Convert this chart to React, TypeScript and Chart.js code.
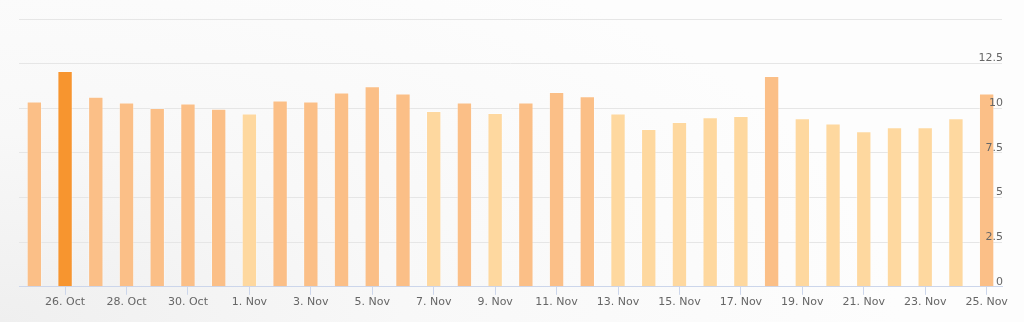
import React, { useEffect, useRef } from "react";
import { Chart, registerables } from "chart.js";

Chart.register(...registerables);

const categories: string[] = [
  "25. Oct", "26. Oct", "27. Oct", "28. Oct", "29. Oct", "30. Oct", "31. Oct",
  "1. Nov", "2. Nov", "3. Nov", "4. Nov", "5. Nov", "6. Nov", "7. Nov", "8. Nov",
  "9. Nov", "10. Nov", "11. Nov", "12. Nov", "13. Nov", "14. Nov", "15. Nov",
  "16. Nov", "17. Nov", "18. Nov", "19. Nov", "20. Nov", "21. Nov", "22. Nov",
  "23. Nov", "24. Nov", "25. Nov",
];

const values: number[] = [
  10.38, 12.09, 10.64, 10.33, 10.02, 10.27, 9.97,
  9.71, 10.44, 10.38, 10.89, 11.24, 10.83, 9.85, 10.33,
  9.74, 10.33, 10.91, 10.68, 9.71, 8.84, 9.23,
  9.5, 9.56, 11.81, 9.44, 9.14, 8.71, 8.94,
  8.94, 9.44, 10.83,
];

const yTickValues: number[] = [0, 2.5, 5, 7.5, 10, 12.5, 15];

const colorFor = (v: number) =>
  v >= 12 ? "#f7952f" : v >= 9.9 ? "#fbbf87" : "#fed89f";

export default function App() {
  const ref = useRef<HTMLCanvasElement | null>(null);

  useEffect(() => {
    if (!ref.current) return;
    const setTicks = (axis: any) => {
      axis.ticks = yTickValues.map((v) => ({ value: v }));
    };
    const chart = new Chart(ref.current, {
      type: "bar",
      data: {
        labels: categories,
        datasets: [
          {
            data: values,
            yAxisID: "y",
            backgroundColor: values.map(colorFor),
            borderColor: "rgba(255,255,255,0.35)",
            borderWidth: 1,
            barPercentage: 0.5,
            categoryPercentage: 1,
          },
        ],
      },
      options: {
        animation: false,
        responsive: false,
        maintainAspectRatio: false,
        layout: { padding: { left: 19, right: 20, top: 19, bottom: 12 } },
        plugins: { legend: { display: false }, tooltip: { enabled: false } },
        scales: {
          x: {
            offset: true,
            grid: {
              offset: false,
              drawOnChartArea: false,
              drawTicks: true,
              tickLength: 8,
              color: (ctx: any) => (ctx.index % 2 === 1 ? "#ccd6eb" : "rgba(0,0,0,0)"),
            },
            border: { display: true, color: "#ccd6eb" },
            ticks: {
              autoSkip: false,
              maxRotation: 0,
              padding: 1,
              color: "#666666",
              font: { family: "DejaVu Sans", size: 11 },
              callback: (_v: any, i: number) => (i % 2 === 1 ? categories[i] : ""),
            },
          },
          y: {
            position: "right",
            min: 0,
            max: 15,
            afterBuildTicks: setTicks,
            grid: {
              drawTicks: false,
              color: (ctx: any) => (ctx.tick && ctx.tick.value === 0 ? "#ccd6eb" : "#e6e6e6"),
            },
            border: { display: false },
            ticks: { display: false },
          },
          y2: {
            position: "right",
            min: 0,
            max: 15,
            z: 1,
            afterBuildTicks: setTicks,
            grid: { display: false, drawTicks: false },
            border: { display: false },
            ticks: {
              z: 1,
              mirror: true,
              padding: 1,
              labelOffset: -5,
              color: "#666666",
              font: { family: "DejaVu Sans", size: 11 },
              callback: (v: any) => (v === 15 ? "" : String(v)),
            },
          },
        },
      },
    });
    return () => chart.destroy();
  }, []);

  return (
    <div
      style={{
        position: "fixed",
        left: 0,
        top: 0,
        width: 1024,
        height: 322,
        background:
          "radial-gradient(ellipse 900px 420px at 0% 100%, #efefef 0%, #f8f8f8 45%, #fdfdfd 100%)",
      }}
    >
      <canvas ref={ref} width={1024} height={322} style={{ display: "block" }} />
    </div>
  );
}
